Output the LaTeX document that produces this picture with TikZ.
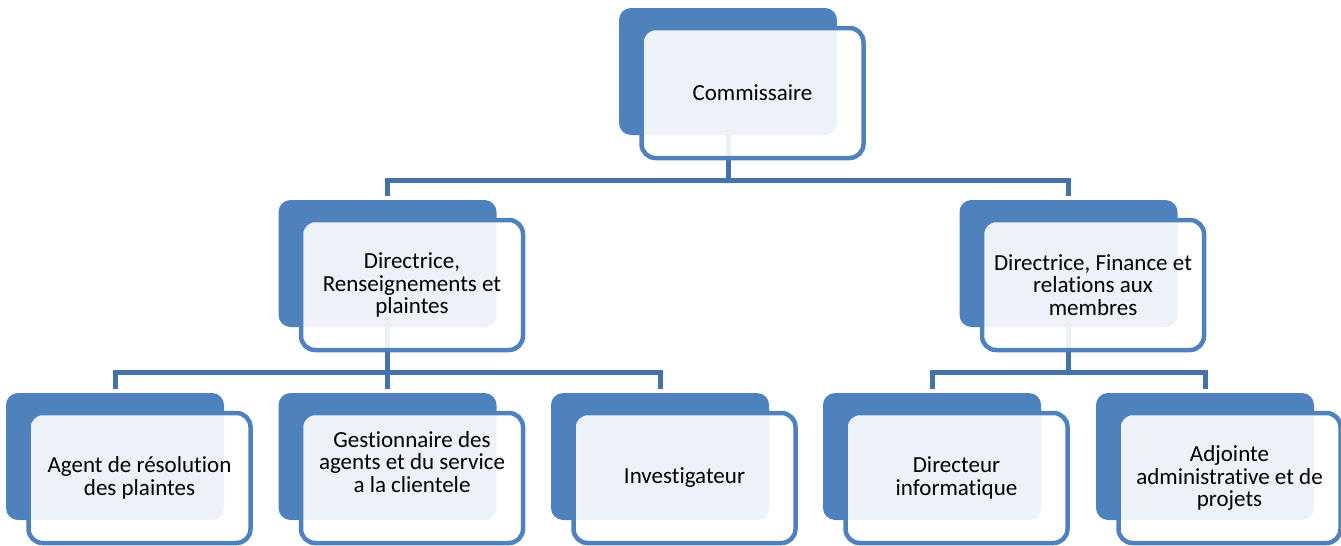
\documentclass[tikz,border=0pt]{standalone}
\usepackage{fontspec}
\setmainfont{Carlito}[Ligatures={NoCommon}]
\usetikzlibrary{backgrounds}
\definecolor{boxblue}{RGB}{79,129,189}
\definecolor{lineblue}{RGB}{69,114,170}

\begin{document}
\begin{tikzpicture}[x=1pt,y=1pt,
    back/.style={rectangle,rounded corners=12pt,fill=boxblue,minimum width=218pt,minimum height=127pt,inner sep=0pt},
    front/.style={rectangle,rounded corners=14pt,draw=boxblue,line width=4.5pt,fill=white,fill opacity=0.9,minimum width=222pt,minimum height=130pt,inner sep=0pt},
    txt/.style={align=center,font=\fontsize{23}{22.5}\selectfont,inner sep=0pt},
    link/.style={draw=lineblue,line width=5pt,line join=miter}]
    \useasboundingbox (0,0) rectangle (1341,-546);
        % back boxes
        \node [back] (com) at (728,-71.5) {};
        \node [back] (dl) at (387.5,-263.5) {};
        \node [back] (dr) at (1068.5,-263.5) {};
        \node [back] (ag) at (115,-456.5) {};
        \node [back] (ge) at (387.5,-456.5) {};
        \node [back] (in) at (660,-456.5) {};
        \node [back] (di) at (932,-456.5) {};
        \node [back] (ad) at (1205,-456.5) {};
        % connectors
        \begin{scope}[on background layer]
        \coordinate (bar1) at (0,-180);
        \coordinate (bar2) at (0,-372);
        \path [link] (com.south) -- (com.south |- bar1);
        \path [link, shorten <=4pt, shorten >=4pt] (dl.north) -- (dl.north |- bar1) -| (dr.north);
        \path [link, shorten >=4pt] (dl.south) -- (ge.north);
        \path [link, shorten <=4pt, shorten >=4pt] (ag.north) -- (ag.north |- bar2) -| (in.north);
        \path [link] (dr.south) -- (dr.south |- bar2);
        \path [link, shorten <=4pt, shorten >=4pt] (di.north) -- (di.north |- bar2) -| (ad.north);
        \end{scope}
        % front boxes
        \node [front] (comf) at ([shift={(24.5,-21.5)}]com.center) {};
        \node [front] (dlf) at ([shift={(24.5,-21.5)}]dl.center) {};
        \node [front] (drf) at ([shift={(24.5,-21.5)}]dr.center) {};
        \node [front] (agf) at ([shift={(24.5,-21.5)}]ag.center) {};
        \node [front] (gef) at ([shift={(24.5,-21.5)}]ge.center) {};
        \node [front] (inf) at ([shift={(24.5,-21.5)}]in.center) {};
        \node [front] (dif) at ([shift={(24.5,-21.5)}]di.center) {};
        \node [front] (adf) at ([shift={(24.5,-21.5)}]ad.center) {};
        % texts
        \node [txt] (comt) at (comf.center) {Commissaire};
        \node [txt] (dlt) at (dlf.center) {Directrice,\\Renseignements et\\plaintes};
        \node [txt] (drt) at (drf.center) {Directrice, Finance et\\relations aux\\membres};
        \node [txt] (agt) at (agf.center) {Agent de r\'esolution\\des plaintes};
        \node [txt] (get) at ([yshift=16pt]gef.center) {Gestionnaire des\\agents et du service\\a la clientele};
        \node [txt] (int) at (inf.center) {Investigateur};
        \node [txt] (dit) at (dif.center) {Directeur\\informatique};
        \node [txt] (adt) at (adf.center) {Adjointe\\administrative et de\\projets};
    \end{tikzpicture}
\end{document}
